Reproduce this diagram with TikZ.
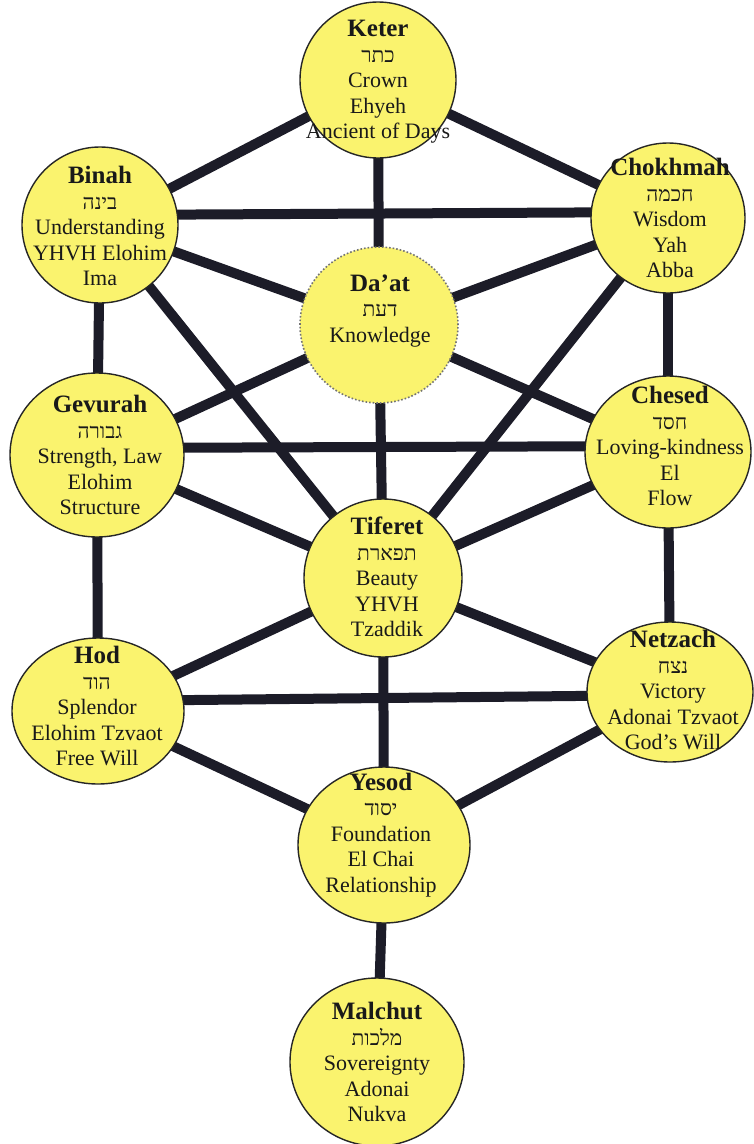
\documentclass[tikz,border=0pt]{standalone}
\usepackage{fontspec}
\setmainfont{Liberation Serif}
\newfontfamily\heb[Script=Hebrew]{Liberation Serif}
\TeXXeTstate=1
\usetikzlibrary{shapes.geometric,backgrounds}
\definecolor{sefyellow}{RGB}{250,243,110}
\definecolor{pathcol}{RGB}{28,28,40}
\definecolor{txtcol}{RGB}{25,25,25}
\newcommand{\nm}[1]{{\fontsize{25}{28}\selectfont\bfseries #1}}
\newcommand{\hb}[1]{{\heb\fontsize{21}{26}\selectfont\beginR #1\endR}}
\tikzset{
  sefira/.style={ellipse, draw=black!85, line width=1.4pt, fill=sefyellow, inner sep=0pt},
  hiddensef/.style={ellipse, draw=black!55, dotted, line width=1.6pt, fill=sefyellow, inner sep=0pt},
  label/.style={align=center, text=txtcol, inner sep=0pt, font=\fontsize{22}{25.5}\selectfont},
  pathway/.style={draw=pathcol, line width=10pt}
}
\begin{document}
\begin{tikzpicture}[x=1pt,y=-1pt]
\useasboundingbox (0,0) rectangle (753,1144);
% sefirot
\node[sefira, minimum width=156, minimum height=156] (keter) at (378,80) {};
\node[sefira, minimum width=156, minimum height=156] (binah) at (100,225) {};
\node[sefira, minimum width=154, minimum height=150] (chokhmah) at (668,218) {};
\node[hiddensef, minimum width=158, minimum height=156] (daat) at (379,325) {};
\node[sefira, minimum width=174, minimum height=164] (gevurah) at (97,455) {};
\node[sefira, minimum width=166, minimum height=152] (chesed) at (668,452) {};
\node[sefira, minimum width=158, minimum height=158] (tiferet) at (383,578) {};
\node[sefira, minimum width=172, minimum height=146] (hod) at (98,711) {};
\node[sefira, minimum width=166, minimum height=140] (netzach) at (670,692) {};
\node[sefira, minimum width=172, minimum height=156] (yesod) at (384,845) {};
\node[sefira, minimum width=174, minimum height=168] (malchut) at (377,1062) {};
% pathways
\begin{pgfonlayer}{background}
\fill[white] (0,0) rectangle (753,1144);
\draw[pathway] (keter.center) -- (binah.center);
\draw[pathway] (keter.center) -- (chokhmah.center);
\draw[pathway] (keter.center) -- (daat.center);
\draw[pathway] (daat.center) -- (tiferet.center);
\draw[pathway] ([yshift=10pt]binah.center) -- ([yshift=6pt]chokhmah.center);
\draw[pathway] (binah.center) -- (daat.center);
\draw[pathway] (chokhmah.center) -- (daat.center);
\draw[pathway] (binah.center) -- (gevurah.center);
\draw[pathway] (chokhmah.center) -- (chesed.center);
\draw[pathway] (binah.center) -- (tiferet.center);
\draw[pathway] (chokhmah.center) -- (tiferet.center);
\draw[pathway] (daat.center) -- (gevurah.center);
\draw[pathway] (daat.center) -- (chesed.center);
\draw[pathway] ([yshift=7pt]gevurah.center) -- ([yshift=6pt]chesed.center);
\draw[pathway] (gevurah.center) -- (tiferet.center);
\draw[pathway] (chesed.center) -- (tiferet.center);
\draw[pathway] (gevurah.center) -- (hod.center);
\draw[pathway] (chesed.center) -- (netzach.center);
\draw[pathway] (tiferet.center) -- (hod.center);
\draw[pathway] (tiferet.center) -- (netzach.center);
\draw[pathway] (tiferet.center) -- (yesod.center);
\draw[pathway] ([yshift=10pt]hod.center) -- ([yshift=-3pt]netzach.center);
\draw[pathway] (hod.center) -- (yesod.center);
\draw[pathway] (netzach.center) -- (yesod.center);
\draw[pathway] (yesod.center) -- (malchut.center);
\end{pgfonlayer}
% labels
\node[label] (keter-t) at (378,82) {\nm{Keter}\\ \hb{כתר}\\ Crown\\ Ehyeh\\ Ancient of Days};
\node[label] (binah-t) at (100,226) {\nm{Binah}\\ \hb{בינה}\\ Understanding\\ YHVH Elohim\\ Ima};
\node[label] (chokhmah-t) at (670,218) {\nm{Chokhmah}\\ \hb{חכמה}\\ Wisdom\\ Yah\\ Abba};
\node[label] (daat-t) at (380,311) {\nm{Da’at}\\ \hb{דעת}\\ Knowledge};
\node[label] (gevurah-t) at (100,455) {\nm{Gevurah}\\ \hb{גבורה}\\ Strength, Law\\ Elohim\\ Structure};
\node[label] (chesed-t) at (670,446) {\nm{Chesed}\\ \hb{חסד}\\ Loving-kindness\\ El\\ Flow};
\node[label] (tiferet-t) at (387,577) {\nm{Tiferet}\\ \hb{תפארת}\\ Beauty\\ YHVH\\ Tzaddik};
\node[label] (hod-t) at (97,706) {\nm{Hod}\\ \hb{הוד}\\ Splendor\\ Elohim Tzvaot\\ Free Will};
\node[label] (netzach-t) at (673,690) {\nm{Netzach}\\ \hb{נצח}\\ Victory\\ Adonai Tzvaot\\ God’s Will};
\node[label] (yesod-t) at (381,835) {\nm{Yesod}\\ \hb{יסוד}\\ Foundation\\ El Chai\\ Relationship};
\node[label] (malchut-t) at (377,1062) {\nm{Malchut}\\ \hb{מלכות}\\ Sovereignty\\ Adonai\\ Nukva};
\end{tikzpicture}
\end{document}
